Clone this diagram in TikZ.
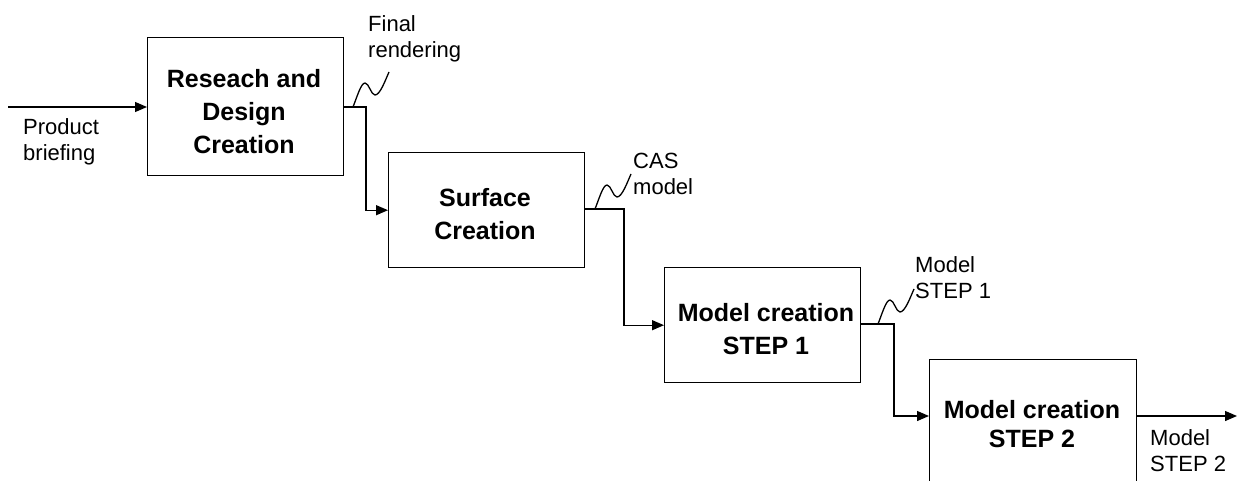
\documentclass[tikz,border=0pt]{standalone}
\usepackage{fontspec}
\setmainfont{Liberation Sans}
\usetikzlibrary{arrows.meta}
\tikzset{
  flow/.style={line width=1.3pt, -{Triangle[length=12pt,width=10pt]}},
  link/.style={line width=1.3pt},
  stagebox/.style={draw, line width=1.4pt, inner sep=0pt, anchor=north west},
  stagetext/.style={font=\fontsize{25}{33}\selectfont\bfseries, align=center, inner sep=0pt},
  tag/.style={font=\fontsize{22}{26}\selectfont, align=left, inner sep=0pt, anchor=west},
  pics/squig/.style={code={
    \draw[link] (0,0) .. controls (4,-10) and (8,-24) .. (12,-24)
      .. controls (16,-24) and (18,-12) .. (22,-12)
      .. controls (27,-12) and (32,-26) .. (36,-35);
  }}
}
\begin{document}
\begin{tikzpicture}[x=1pt,y=-1pt]
\useasboundingbox (0,0) rectangle (1237,481);
\clip (0,0) rectangle (1237,481);

% process stages
\node[stagebox, minimum width=196pt, minimum height=138pt] (b1) at (147,37) {};
\node[stagebox, minimum width=196pt, minimum height=115pt] (b2) at (388,152) {};
\node[stagebox, minimum width=196pt, minimum height=115pt] (b3) at (664,267) {};
\node[stagebox, minimum width=207pt, minimum height=240pt] (b4) at (929,359) {};

\node[stagetext] (t1) at (244,112) {Reseach and\\Design\\Creation};
\node[stagetext] (t2) at (485,214.5) {Surface\\Creation};
\node[stagetext] (t3) at (766,329.5) {Model creation\\STEP 1};
\node[stagetext, font=\fontsize{25}{29}\selectfont\bfseries] (t4) at (1032,424) {Model creation\\STEP 2};

% routing points
\coordinate (src) at (8,107);
\coordinate (j1) at (366,107);
\coordinate (j2) at (624,209);
\coordinate (j3) at (894,324);
\coordinate (in4) at (929,416);
\coordinate (sink) at (1237,416);
\coordinate (s1) at (353,107);
\coordinate (s2) at (595,209);
\coordinate (s3) at (878,324);

% connectors
\draw[flow] (src) -- (b1.west |- src);
\draw[flow] (b1.east |- j1) -- (j1) |- (b2.west);
\draw[flow] (b2.east |- j2) -- (j2) |- (b3.west);
\draw[flow] (b3.east |- j3) -- (j3) |- (in4);
\draw[flow] (b4.east |- in4) -- (sink);

% output markers
\pic at (s1) {squig};
\pic at (s2) {squig};
\pic at (s3) {squig};

% flow labels
\node[tag] (l0) at (23,141.5) {Product\\briefing};
\node[tag] (l1) at (368,38.5) {Final\\rendering};
\node[tag] (l2) at (633,173.5) {CAS\\model};
\node[tag] (l3) at (915,277.5) {Model\\STEP 1};
\node[tag] (l4) at (1150,451) {Model\\STEP 2};
\end{tikzpicture}
\end{document}
